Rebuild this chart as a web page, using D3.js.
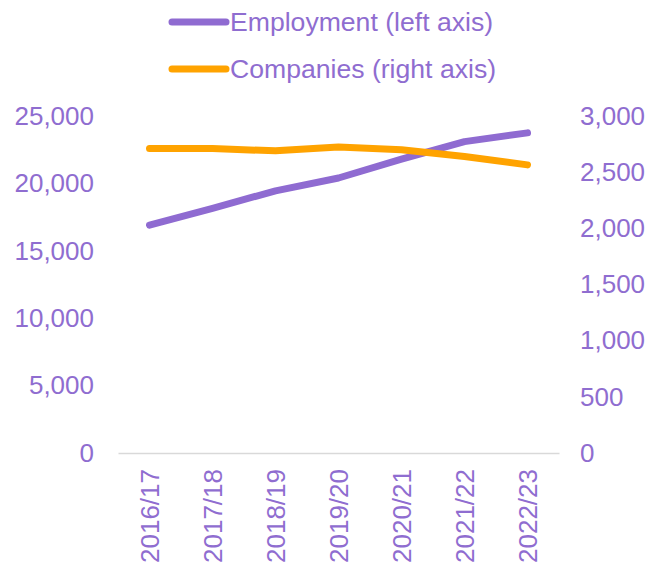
<!DOCTYPE html>
<html>
<head>
<meta charset="utf-8">
<script src="https://cdn.jsdelivr.net/npm/d3@7"></script>
<style>
  body { margin: 0; background: #fff; }
  svg { display: block; font-family: "Liberation Sans", Arial, sans-serif; }
</style>
</head>
<body>
<svg id="chart" width="663" height="566"></svg>
<script>
// Financial years on the x axis
const years = ["2016/17", "2017/18", "2018/19", "2019/20", "2020/21", "2021/22", "2022/23"];
// Employment (left axis)
const employment = [16900, 18150, 19450, 20400, 21800, 23100, 23750];
// Number of companies (right axis)
const companies = [2710, 2710, 2690, 2725, 2700, 2640, 2565];
// Tick values for each axis
const leftTicks = [0, 5000, 10000, 15000, 20000, 25000];
const rightTicks = [0, 500, 1000, 1500, 2000, 2500, 3000];

const purple = "#8f6bd1";
const orange = "#ffa300";
const textColor = "#8f6dd0";
const fontSize = "26px";

const svg = d3.select("#chart");
const m = { left: 118, right: 559, top: 116, bottom: 453 };

const x = d3.scaleBand().domain(years).range([m.left, m.right]);
const yL = d3.scaleLinear().domain([0, 25000]).range([m.bottom, m.top]);
const yR = d3.scaleLinear().domain([0, 3000]).range([m.bottom, m.top]);
const fmt = d3.format(",");

// Left axis labels
const left = svg.append("g").attr("transform", `translate(${m.left},0)`)
  .call(d3.axisLeft(yL).tickValues(leftTicks).tickFormat(fmt).tickSize(0).tickPadding(24));
left.select(".domain").remove();
left.selectAll("text").attr("fill", textColor).style("font-size", fontSize)
  .style("font-family", "'Liberation Sans', Arial, sans-serif");

// Right axis labels
const right = svg.append("g").attr("transform", `translate(${m.right},0)`)
  .call(d3.axisRight(yR).tickValues(rightTicks).tickFormat(fmt).tickSize(0).tickPadding(21));
right.select(".domain").remove();
right.selectAll("text").attr("fill", textColor).style("font-size", fontSize)
  .style("font-family", "'Liberation Sans', Arial, sans-serif");

// Category axis with rotated labels
const bottom = svg.append("g").attr("transform", `translate(0,${m.bottom})`)
  .call(d3.axisBottom(x).tickSize(0).tickPadding(0));
bottom.select(".domain").attr("stroke", "#d9d9d9").attr("stroke-width", 1.5);
bottom.selectAll("text")
  .attr("fill", textColor).style("font-size", fontSize)
  .style("font-family", "'Liberation Sans', Arial, sans-serif")
  .attr("transform", "rotate(-90)")
  .attr("text-anchor", "end")
  .attr("x", -16).attr("y", 0).attr("dy", "0.35em");

// Lines
const cx = d => x(d) + x.bandwidth() / 2;
const lineL = d3.line().x((d, i) => cx(years[i])).y(d => yL(d));
const lineR = d3.line().x((d, i) => cx(years[i])).y(d => yR(d));

svg.append("path").datum(employment)
  .attr("d", lineL).attr("fill", "none").attr("stroke", purple)
  .attr("stroke-width", 7).attr("stroke-linecap", "round").attr("stroke-linejoin", "round");
svg.append("path").datum(companies)
  .attr("d", lineR).attr("fill", "none").attr("stroke", orange)
  .attr("stroke-width", 7).attr("stroke-linecap", "round").attr("stroke-linejoin", "round");

// Legend
const legend = [
  { label: "Employment (left axis)", color: purple, y: 22 },
  { label: "Companies (right axis)", color: orange, y: 69 }
];
const lg = svg.append("g");
legend.forEach(l => {
  lg.append("line").attr("x1", 172).attr("x2", 226).attr("y1", l.y).attr("y2", l.y)
    .attr("stroke", l.color).attr("stroke-width", 7).attr("stroke-linecap", "round");
  lg.append("text").attr("x", 230).attr("y", l.y).attr("dy", "0.35em")
    .attr("fill", textColor).style("font-size", "26.6px").text(l.label);
});
</script>
</body>
</html>
